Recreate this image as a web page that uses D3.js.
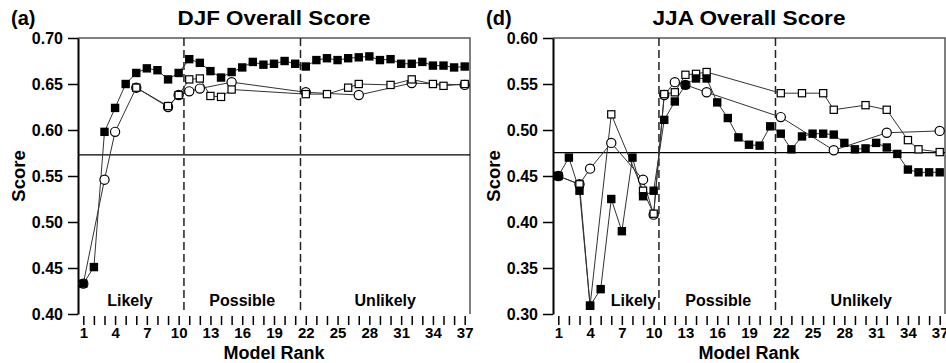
<!DOCTYPE html>
<html>
<head>
<meta charset="utf-8">
<script src="https://cdn.jsdelivr.net/npm/d3@7"></script>
<style>
  body { margin: 0; background: #fff; }
  text { font-family: "Liberation Sans", Arial, Helvetica, sans-serif; font-weight: bold; fill: #000; }
</style>
</head>
<body>
<div id="chart"></div>
<script>
// Model ranks (x categories) and the labelled ticks
var ranks = [1,2,3,4,5,6,7,8,9,10,11,12,13,14,15,16,17,18,19,20,21,22,23,24,25,26,27,28,29,30,31,32,33,34,35,36,37];
var rankLabels = [1,4,7,10,13,16,19,22,25,28,31,34,37];
var groupNames = ["Likely", "Possible", "Unlikely"];

// DJF panel
var djfTicks = [0.40,0.45,0.50,0.55,0.60,0.65,0.70];
var djfFilled = [0.433,0.451,0.598,0.624,0.650,0.662,0.667,0.665,0.655,0.662,0.677,0.673,0.664,0.657,0.663,0.668,0.674,0.671,0.672,0.675,0.672,0.669,0.676,0.678,0.676,0.678,0.679,0.680,0.676,0.677,0.672,0.672,0.674,0.670,0.670,0.668,0.669];
var djfCircleRanks = [1,3,4,6,9,10,11,12,15,22,27,32,37];
var djfCircle = [0.433,0.546,0.598,0.646,0.625,0.638,0.642,0.645,0.652,0.641,0.638,0.651,0.649];
var djfSquareRanks = [6,9,10,11,12,13,14,15,22,24,26,27,30,32,34,35,37];
var djfSquare = [0.646,0.626,0.638,0.655,0.656,0.637,0.636,0.644,0.639,0.639,0.646,0.650,0.649,0.655,0.650,0.648,0.650];
var djfRef = 0.573;

// JJA panel
var jjaTicks = [0.30,0.35,0.40,0.45,0.50,0.55,0.60];
var jjaFilled = [0.450,0.470,0.434,0.309,0.327,0.425,0.390,0.470,0.428,0.434,0.511,0.531,0.549,0.556,0.556,0.530,0.513,0.492,0.484,0.483,0.504,0.496,0.479,0.493,0.496,0.496,0.495,0.486,0.479,0.480,0.486,0.481,0.474,0.457,0.454,0.454,0.454];
var jjaCircleRanks = [1,3,4,6,9,10,11,12,13,15,22,27,32,37];
var jjaCircle = [0.450,0.441,0.458,0.486,0.446,0.408,0.538,0.552,0.549,0.541,0.514,0.478,0.497,0.499];
var jjaSquareRanks = [1,3,4,6,9,10,11,12,13,14,15,22,24,26,27,30,32,34,35,37];
var jjaSquare = [0.450,0.441,0.309,0.517,0.434,0.409,0.539,0.541,0.560,0.561,0.563,0.540,0.540,0.540,0.522,0.527,0.522,0.489,0.479,0.476];
var jjaRef = 0.4755;

var svgWidth = 946;
var svgHeight = 363;
var plotTop = 38;
var plotBottom = 314;
var plotWidth = 392;

var svg = d3.select("#chart")
    .append("svg")
    .attr("width", svgWidth)
    .attr("height", svgHeight);

var panels = [
  { tag: "(a)", title: "DJF Overall Score", left: 78, ticks: djfTicks, filled: djfFilled,
    circleRanks: djfCircleRanks, circle: djfCircle, squareRanks: djfSquareRanks, square: djfSquare,
    ref: djfRef, groupAt: [5.4, 16, 29.5] },
  { tag: "(d)", title: "JJA Overall Score", left: 553, ticks: jjaTicks, filled: jjaFilled,
    circleRanks: jjaCircleRanks, circle: jjaCircle, squareRanks: jjaSquareRanks, square: jjaSquare,
    ref: jjaRef, groupAt: [8.1, 16.1, 29.6] }
];

function pairs(xs, ys) {
  return xs.map(function(r, i) { return { r: r, v: ys[i] }; });
}

panels.forEach(function(p) {
  var g = svg.append("g");
  var right = p.left + plotWidth;

  var xScale = d3.scaleLinear().domain([0.5, 37.5]).range([p.left, right]);
  var yScale = d3.scaleLinear().domain([p.ticks[0], p.ticks[p.ticks.length - 1]]).range([plotBottom, plotTop]);

  // frame: top and right
  g.append("path")
      .attr("d", "M" + p.left + "," + plotTop + "H" + right + "V" + plotBottom)
      .attr("fill", "none")
      .attr("stroke", "#555")
      .attr("stroke-width", 1.5);

  // y axis
  var yAxis = d3.axisLeft(yScale)
      .tickValues(p.ticks)
      .tickSize(10)
      .tickSizeOuter(0)
      .tickPadding(5)
      .tickFormat(d3.format(".2f"));
  var yg = g.append("g")
      .attr("transform", "translate(" + p.left + ",0)")
      .call(yAxis);
  yg.select(".domain").attr("stroke-width", 2);
  yg.selectAll(".tick line").attr("stroke-width", 1.5);
  yg.selectAll("text").style("font-size", "16px").attr("font-family", null);

  // x axis (ticks hang below the plot)
  var xAxis = d3.axisBottom(xScale)
      .tickValues(ranks)
      .tickSize(9)
      .tickPadding(2)
      .tickFormat(function(d) { return rankLabels.indexOf(d) >= 0 ? d : ""; });
  var xg = g.append("g")
      .attr("transform", "translate(0," + (plotBottom + 2) + ")")
      .call(xAxis);
  xg.select(".domain").remove();
  xg.selectAll(".tick line").attr("stroke-width", 1.5);
  xg.selectAll("text").style("font-size", "15px").attr("font-family", null);

  // reference line and group dividers
  g.append("line")
      .attr("x1", p.left).attr("x2", right)
      .attr("y1", yScale(p.ref)).attr("y2", yScale(p.ref))
      .attr("stroke", "#000").attr("stroke-width", 1.2);
  [10.5, 21.5].forEach(function(b) {
    g.append("line")
        .attr("x1", xScale(b)).attr("x2", xScale(b))
        .attr("y1", plotTop).attr("y2", plotBottom)
        .attr("stroke", "#222").attr("stroke-width", 1.5)
        .attr("stroke-dasharray", "8,4");
  });

  groupNames.forEach(function(name, i) {
    g.append("text")
        .attr("x", xScale(p.groupAt[i]))
        .attr("y", 306)
        .attr("text-anchor", "middle")
        .style("font-size", "16px")
        .text(name);
  });

  // series lines
  var line = d3.line().x(function(d) { return xScale(d.r); }).y(function(d) { return yScale(d.v); });
  var filledPts = pairs(ranks, p.filled);
  var circlePts = pairs(p.circleRanks, p.circle);
  var squarePts = pairs(p.squareRanks, p.square);

  [squarePts, circlePts, filledPts].forEach(function(pts) {
    g.append("path")
        .datum(pts)
        .attr("d", line)
        .attr("fill", "none")
        .attr("stroke", "#333")
        .attr("stroke-width", 1);
  });

  // markers
  g.selectAll(".circ")
      .data(circlePts)
      .enter()
      .append("circle")
      .attr("cx", function(d) { return xScale(d.r); })
      .attr("cy", function(d) { return yScale(d.v); })
      .attr("r", 4.6)
      .attr("fill", "#fff")
      .attr("stroke", "#000")
      .attr("stroke-width", 1.2);

  g.selectAll(".osq")
      .data(squarePts)
      .enter()
      .append("rect")
      .attr("x", function(d) { return xScale(d.r) - 3.6; })
      .attr("y", function(d) { return yScale(d.v) - 3.6; })
      .attr("width", 7.2)
      .attr("height", 7.2)
      .attr("fill", "#fff")
      .attr("stroke", "#000")
      .attr("stroke-width", 1.2);

  g.selectAll(".fsq")
      .data(filledPts)
      .enter()
      .append("rect")
      .attr("x", function(d) { return xScale(d.r) - 4.2; })
      .attr("y", function(d) { return yScale(d.v) - 4.2; })
      .attr("width", 8.4)
      .attr("height", 8.4)
      .attr("fill", "#000");

  // titles and axis labels
  var mid = (p.left + right) / 2;
  svg.append("text")
      .attr("x", mid)
      .attr("y", 25)
      .attr("text-anchor", "middle")
      .attr("textLength", 193)
      .attr("lengthAdjust", "spacingAndGlyphs")
      .style("font-size", "20px")
      .text(p.title);

  svg.append("text")
      .attr("x", p.left - 67)
      .attr("y", 25)
      .style("font-size", "20px")
      .text(p.tag);

  svg.append("text")
      .attr("x", mid)
      .attr("y", 359)
      .attr("text-anchor", "middle")
      .style("font-size", "18px")
      .text("Model Rank");

  svg.append("text")
      .attr("transform", "translate(" + (p.left - 53) + "," + ((plotTop + plotBottom) / 2) + ") rotate(-90)")
      .attr("text-anchor", "middle")
      .style("font-size", "18.5px")
      .text("Score");
});
</script>
</body>
</html>
